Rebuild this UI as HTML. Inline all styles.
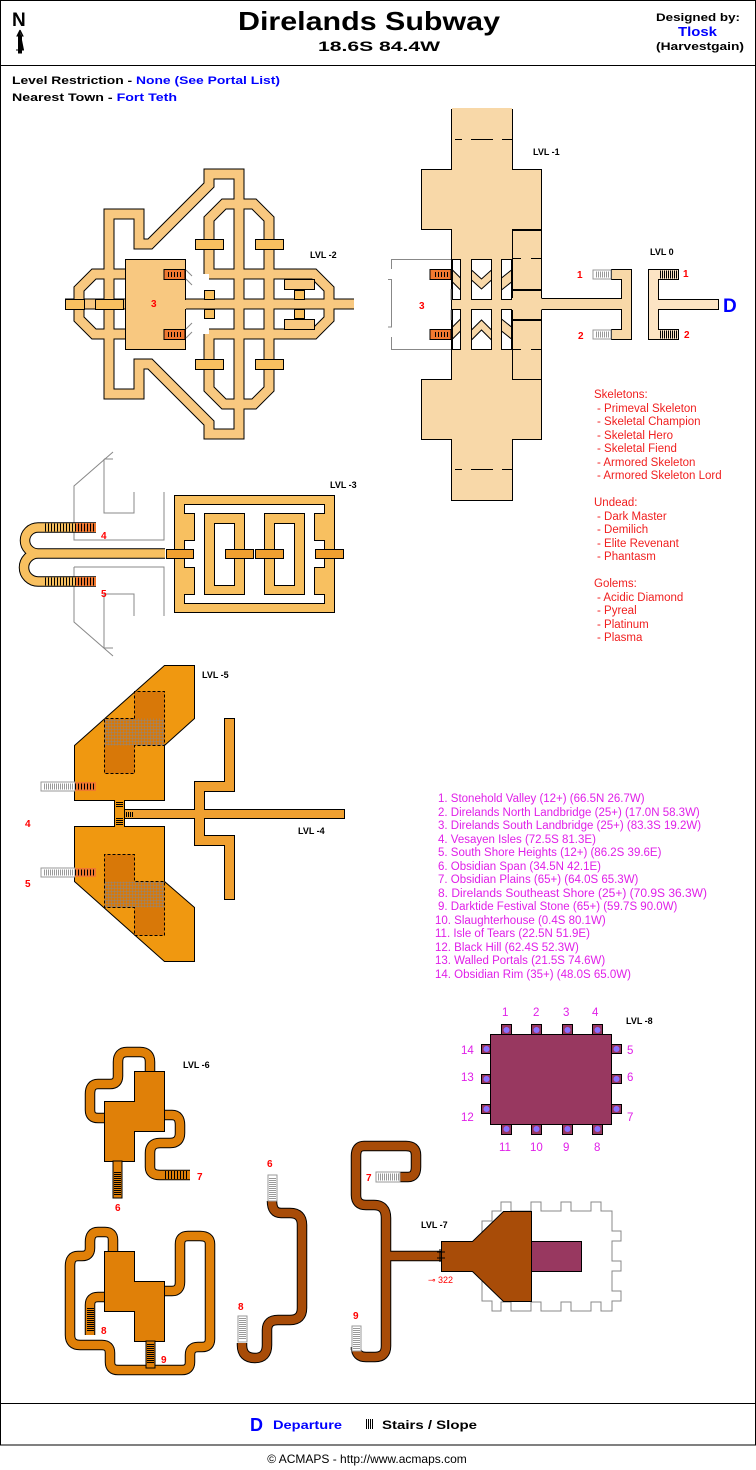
<!DOCTYPE html>
<html><head><meta charset="utf-8"><style>
html,body{margin:0;padding:0;background:#fff;}
svg{display:block;}
text{font-family:"Liberation Sans",sans-serif;}
.b{font-weight:bold;}
.lv{font-size:9px;font-weight:bold;fill:#000;}
.rn{font-size:10px;font-weight:bold;fill:#f00;}
.mon{font-size:11.5px;fill:#f02020;}
.pl{font-size:11.5px;fill:#e020e8;}
.ck{fill:none;stroke:#000;stroke-width:11;stroke-linejoin:miter;stroke-linecap:butt;}
.gr{fill:none;stroke:#888;stroke-width:1;}
</style></head><body>
<svg width="756" height="1470" viewBox="0 0 756 1470" xmlns="http://www.w3.org/2000/svg">
<defs>
<pattern id="st" width="2" height="4" patternUnits="userSpaceOnUse"><rect x="0" y="0" width="1" height="4" fill="#000"/></pattern>
<pattern id="st3" width="3" height="4" patternUnits="userSpaceOnUse"><rect x="0" y="0" width="1" height="4" fill="#000"/></pattern>
<pattern id="sg" width="2" height="4" patternUnits="userSpaceOnUse"><rect x="0" y="0" width="1" height="4" fill="#999"/></pattern>
<pattern id="sh" width="4" height="2" patternUnits="userSpaceOnUse"><rect x="0" y="0" width="4" height="1" fill="#000"/></pattern>
<pattern id="shg" width="4" height="2" patternUnits="userSpaceOnUse"><rect x="0" y="0" width="4" height="1" fill="#999"/></pattern>
<pattern id="grid" width="3" height="3" patternUnits="userSpaceOnUse"><rect width="3" height="3" fill="#d87808"/><path d="M0 0H3M0 0V3" stroke="#888" stroke-width="1"/></pattern>
</defs>
<!-- frame -->
<rect x="0.5" y="0.5" width="755" height="1444.5" fill="none" stroke="#000"/>
<line x1="0" y1="65.5" x2="756" y2="65.5" stroke="#000"/>
<line x1="0" y1="1403.5" x2="756" y2="1403.5" stroke="#000"/>
<!-- header -->
<text x="12" y="26" class="b" font-size="19">N</text>
<path d="M20 30 L23 36 H21.5 V50 H24 M16 50 H21.5 M20 30 L17 36 H18.5 V53 H21.5 V36" fill="#000" stroke="#000" stroke-width="1"/>
<text x="238" y="30" class="b" font-size="26" textLength="262" lengthAdjust="spacingAndGlyphs">Direlands Subway</text>
<text x="318" y="51" class="b" font-size="14" textLength="122" lengthAdjust="spacingAndGlyphs">18.6S 84.4W</text>
<text x="656" y="21" class="b" font-size="11" textLength="84" lengthAdjust="spacingAndGlyphs">Designed by:</text>
<text x="678" y="36" class="b" font-size="13" fill="#00f" textLength="39" lengthAdjust="spacingAndGlyphs">Tlosk</text>
<text x="656" y="50" class="b" font-size="11" textLength="88" lengthAdjust="spacingAndGlyphs">(Harvestgain)</text>
<text x="12" y="84" class="b" font-size="11" textLength="268" lengthAdjust="spacingAndGlyphs">Level Restriction - <tspan fill="#00f">None (See Portal List)</tspan></text>
<text x="12" y="101" class="b" font-size="11" textLength="165" lengthAdjust="spacingAndGlyphs">Nearest Town - <tspan fill="#00f">Fort Teth</tspan></text>

<!-- LVL -2 -->
<g>
<path class="ck" d="M109,300 V214 H139 V244 H150 L209,185 V174 H239 V434 H209 V423 L150,364 H139 V394 H109 Z"/>
<path class="ck" d="M209,274 V219 L224,204 H254 L269,219 V274 M209,334 V389 L224,404 H254 L269,389 V334 M269,274 H314 L329,289 V319 L314,334 H269 M125,274 H94 L79,289 V319 L94,334 H125 M65,304 H354 M209,274 H269 M209,334 H269 M269,274 V334"/>
<path d="M109,300 V214 H139 V244 H150 L209,185 V174 H239 V434 H209 V423 L150,364 H139 V394 H109 Z M209,274 V219 L224,204 H254 L269,219 V274 M209,334 V389 L224,404 H254 L269,389 V334 M269,274 H314 L329,289 V319 L314,334 H269 M125,274 H94 L79,289 V319 L94,334 H125 M65,304 H354 M209,274 H269 M209,334 H269 M269,274 V334" fill="none" stroke="#f8c880" stroke-width="9"/>
<rect x="125.5" y="259.5" width="60" height="90" fill="#f8c880" stroke="#000"/>
<rect x="135" y="300" width="51" height="9" fill="#f8c880"/>
<rect x="284.5" y="279.5" width="30" height="10" fill="#f8c880" stroke="#000"/>
<rect x="284.5" y="319.5" width="30" height="10" fill="#f8c880" stroke="#000"/>
<g fill="#f8c060" stroke="#000">
<rect x="65.5" y="299.5" width="19" height="10"/><rect x="95.5" y="299.5" width="28" height="10"/>
<rect x="195.5" y="239.5" width="28" height="10"/><rect x="255.5" y="239.5" width="28" height="10"/>
<rect x="195.5" y="359.5" width="28" height="10"/><rect x="255.5" y="359.5" width="28" height="10"/>
<rect x="204.5" y="290.5" width="10" height="9"/><rect x="204.5" y="309.5" width="10" height="9"/>
<rect x="294.5" y="290.5" width="10" height="9"/><rect x="294.5" y="309.5" width="10" height="9"/>
</g>
<rect x="164" y="269.5" width="21" height="10" fill="#f07830" stroke="#000"/><rect x="167" y="272" width="16" height="5" fill="url(#st3)"/>
<rect x="164" y="329.5" width="21" height="10" fill="#f07830" stroke="#000"/><rect x="167" y="332" width="16" height="5" fill="url(#st3)"/>
<path class="gr" d="M186,270 L192,276 M186,279 L192,285 M186,329 L192,323 M186,338 L192,332"/>
<text x="151" y="307" class="rn">3</text>
<text x="310" y="258" class="lv">LVL -2</text>
</g>

<!-- LVL -1 -->
<g fill="#f8d8a8" stroke="#000">
<path d="M451.5,109.5 H512.5 V169.5 H541.5 V229.5 H512.5 V379.5 H541.5 V439.5 H512.5 V500.5 H451.5 V439.5 H421.5 V379.5 H451.5 V229.5 H421.5 V169.5 H451.5 Z"/>
<rect x="451.5" y="109.5" width="30" height="30"/><rect x="482.5" y="109.5" width="30" height="30"/>
<rect x="451.5" y="469.5" width="30" height="31"/><rect x="482.5" y="469.5" width="30" height="31"/>
<rect x="512.5" y="230.5" width="29" height="59"/><rect x="512.5" y="320.5" width="29" height="59"/>
<rect x="512.5" y="290.5" width="29" height="29"/>
</g>
<g fill="#f8d8a8">
<rect x="452" y="108" width="60" height="40"/><rect x="452" y="462" width="60" height="38"/>
<rect x="508" y="298" width="120" height="12"/>
</g>
<path d="M451.5,140 V160 M512.5,140 V160 M451.5,450 V470 M512.5,450 V470 M455,139.5 H462 M471,139.5 H493 M502,139.5 H512 M455,469.5 H462 M471,469.5 H493 M502,469.5 H512 M513,258.5 H521 M531,258.5 H541 M513,349.5 H521 M531,349.5 H541" stroke="#000" fill="none"/>
<g fill="#fff" stroke="#000">
<path d="M452.5,259.5 H460.5 V299.5 H452.5 Z"/><path d="M471.5,259.5 H491.5 V299.5 H471.5 Z"/><path d="M501.5,259.5 H511.5 V299.5 H501.5 Z"/>
<path d="M452.5,309.5 H460.5 V349.5 H452.5 Z"/><path d="M471.5,309.5 H491.5 V349.5 H471.5 Z"/><path d="M501.5,309.5 H511.5 V349.5 H501.5 Z"/>
</g>
<g fill="#f8d8a8" stroke="#000">
<path d="M471.5,270 L481.5,279 L491.5,270 V280 L481.5,289 L471.5,280 Z"/>
<path d="M471.5,330 L481.5,320 L491.5,330 V340 L481.5,330 L471.5,340 Z"/>
<path d="M452.5,270 L460.5,278 V290 L452.5,282 Z"/><path d="M501.5,278 L511.5,270 V282 L501.5,290 Z"/>
<path d="M452.5,327 L460.5,319 V331 L452.5,339 Z"/><path d="M501.5,319 L511.5,327 V339 L501.5,331 Z"/>
</g>
<path d="M541.5,298.5 H621.5 V279.5 H611.5 V269.5 H631.5 V339.5 H611.5 V329.5 H621.5 V309.5 H541.5" fill="#f8d8a8" stroke="#000"/>
<rect x="593" y="270" width="18" height="9" fill="#fff" stroke="#999"/><rect x="595" y="271.5" width="15" height="6" fill="url(#sg)"/>
<rect x="593" y="330" width="18" height="9" fill="#fff" stroke="#999"/><rect x="595" y="331.5" width="15" height="6" fill="url(#sg)"/>
<path class="gr" d="M451,259.5 H391.5 V269 M388,279.5 H391.5 V327 H388 M391.5,337 V349.5 H451 M451,300 V289 M451,310 V320"/>
<rect x="430" y="269.5" width="21" height="10" fill="#f07830" stroke="#000"/><rect x="433" y="272" width="16" height="5" fill="url(#st3)"/>
<rect x="430" y="329.5" width="21" height="10" fill="#f07830" stroke="#000"/><rect x="433" y="332" width="16" height="5" fill="url(#st3)"/>
<text x="419" y="309" class="rn">3</text>
<text x="577" y="278" class="rn">1</text>
<text x="578" y="339" class="rn">2</text>
<text x="533" y="155" class="lv">LVL -1</text>
<!-- LVL 0 -->
<path d="M648.5,269.5 H678.5 V279.5 H658.5 V299.5 H718.5 V309.5 H658.5 V329.5 H678.5 V339.5 H648.5 Z" fill="#fce4c4" stroke="#000"/>
<rect x="659" y="270.5" width="19" height="8" fill="url(#st)"/>
<rect x="659" y="330.5" width="19" height="8" fill="url(#st)"/>
<text x="683" y="277" class="rn">1</text><text x="684" y="338" class="rn">2</text>
<text x="723" y="312" class="b" font-size="19" fill="#00f">D</text>
<text x="650" y="255" class="lv">LVL 0</text>

<!-- monster list -->
<text class="mon" x="594" y="398">Skeletons:</text>
<text class="mon" x="597" y="412">- Primeval Skeleton</text>
<text class="mon" x="597" y="425">- Skeletal Champion</text>
<text class="mon" x="597" y="439">- Skeletal Hero</text>
<text class="mon" x="597" y="452">- Skeletal Fiend</text>
<text class="mon" x="597" y="466">- Armored Skeleton</text>
<text class="mon" x="597" y="479">- Armored Skeleton Lord</text>
<text class="mon" x="594" y="506">Undead:</text>
<text class="mon" x="597" y="520">- Dark Master</text>
<text class="mon" x="597" y="533">- Demilich</text>
<text class="mon" x="597" y="547">- Elite Revenant</text>
<text class="mon" x="597" y="560">- Phantasm</text>
<text class="mon" x="594" y="587">Golems:</text>
<text class="mon" x="597" y="601">- Acidic Diamond</text>
<text class="mon" x="597" y="614">- Pyreal</text>
<text class="mon" x="597" y="628">- Platinum</text>
<text class="mon" x="597" y="641">- Plasma</text>

<!-- LVL -3 -->
<g class="gr">
<path d="M113,452 L74,486 V540 H164 V492 M104,459 V513 H134 V492 M104,459 H113"/>
<path d="M74,567 H164 V616 M74,567 V622 L113,656 M104,594 H134 V616 M104,594 V648 H113"/>
</g>
<path d="M96,527.5 H38 A13,13 0 0 0 38,553.5 A14,14 0 0 0 38,581.5 H96 M38,553.5 H165" fill="none" stroke="#000" stroke-width="10.5"/>
<path d="M96,527.5 H38 A13,13 0 0 0 38,553.5 A14,14 0 0 0 38,581.5 H96 M38,553.5 H165" fill="none" stroke="#f8c060" stroke-width="8.5"/>
<rect x="45" y="523.5" width="30" height="8" fill="url(#st3)"/><rect x="75" y="523" width="21" height="9" fill="#f07830"/><rect x="75" y="523.5" width="21" height="8" fill="url(#st3)"/>
<rect x="45" y="577.5" width="30" height="8" fill="url(#st3)"/><rect x="75" y="577" width="21" height="9" fill="#f07830"/><rect x="75" y="577.5" width="21" height="8" fill="url(#st3)"/>
<text x="101" y="539" class="rn">4</text><text x="101" y="597" class="rn">5</text>
<rect x="174.5" y="495.5" width="160" height="117" fill="#f8c060" stroke="#000"/>
<rect x="184.5" y="504.5" width="140" height="99" fill="#fff" stroke="#000"/>
<g fill="#f8c060" stroke="#000">
<path d="M184.5,513.5 H194.5 V540.5 H184.5"/><path d="M184.5,567.5 H194.5 V594.5 H184.5"/>
<path d="M324.5,513.5 H314.5 V540.5 H324.5"/><path d="M324.5,567.5 H314.5 V594.5 H324.5"/>
<rect x="204.5" y="513.5" width="40" height="81"/><rect x="264.5" y="513.5" width="40" height="81"/>
</g>
<rect x="175" y="514" width="10" height="26" fill="#f8c060"/><rect x="175" y="568" width="10" height="26" fill="#f8c060"/>
<rect x="324" y="514" width="10" height="26" fill="#f8c060"/><rect x="324" y="568" width="10" height="26" fill="#f8c060"/>
<rect x="214.5" y="523.5" width="20" height="62" fill="#fff" stroke="#000"/><rect x="274.5" y="523.5" width="20" height="62" fill="#fff" stroke="#000"/>
<g fill="#f0a030" stroke="#000">
<rect x="166.5" y="549.5" width="27" height="9"/><rect x="225.5" y="549.5" width="28" height="9"/>
<rect x="255.5" y="549.5" width="28" height="9"/><rect x="315.5" y="549.5" width="28" height="9"/>
</g>
<text x="330" y="488" class="lv">LVL -3</text>

<!-- LVL -5 -->
<path d="M74.5,745.5 L164.5,665.5 H194.5 V718.5 L164.5,745.5 V800.5 H124.5 V826.5 H164.5 V881.5 L194.5,907.5 V961.5 H164.5 L74.5,881.5 V826.5 H114.5 V800.5 H74.5 Z" fill="#f09810" stroke="#000"/>
<rect x="134.5" y="691.5" width="30" height="27" fill="#d87808"/><rect x="104.5" y="745.5" width="30" height="28" fill="#d87808"/>
<rect x="104.5" y="718.5" width="60" height="27" fill="url(#grid)"/>
<path d="M134.5,718.5 V691.5 H164.5 V745.5 H134.5 V773.5 H104.5 V718.5 Z" fill="none" stroke="#000" stroke-dasharray="3,2"/>
<rect x="104.5" y="854.5" width="30" height="27" fill="#d87808"/><rect x="134.5" y="907.5" width="30" height="28" fill="#d87808"/>
<rect x="104.5" y="881.5" width="60" height="26" fill="url(#grid)"/>
<path d="M104.5,881.5 V854.5 H134.5 V881.5 H164.5 V935.5 H134.5 V907.5 H104.5 Z" fill="none" stroke="#000" stroke-dasharray="3,2"/>
<rect x="41" y="782" width="34" height="9" fill="#fff" stroke="#999"/><rect x="44" y="783.5" width="30" height="6" fill="url(#sg)"/>
<rect x="75" y="782" width="21" height="9" fill="#f07830"/><rect x="75" y="783.5" width="21" height="6" fill="url(#st3)"/>
<rect x="41" y="868" width="34" height="9" fill="#fff" stroke="#999"/><rect x="44" y="869.5" width="30" height="6" fill="url(#sg)"/>
<rect x="75" y="868" width="21" height="9" fill="#f07830"/><rect x="75" y="869.5" width="21" height="6" fill="url(#st3)"/>
<rect x="116" y="801" width="7" height="7" fill="url(#sh)"/><rect x="116" y="818" width="7" height="7" fill="url(#sh)"/>
<text x="25" y="827" class="rn">4</text><text x="25" y="887" class="rn">5</text>
<text x="202" y="678" class="lv">LVL -5</text>
<!-- LVL -4 -->
<path d="M224.5,718.5 H234.5 V791.5 H204.5 V809.5 H344.5 V818.5 H204.5 V835.5 H234.5 V899.5 H224.5 V845.5 H194.5 V818.5 H124.5 V809.5 H194.5 V781.5 H224.5 Z" fill="#f0a030" stroke="#000"/>
<rect x="125" y="812" width="8" height="5" fill="url(#st)"/>
<text x="298" y="834" class="lv">LVL -4</text>

<!-- portal list -->
<g class="pl">
<text x="438" y="802">1. Stonehold Valley (12+) (66.5N 26.7W)</text>
<text x="438" y="816">2. Direlands North Landbridge (25+) (17.0N 58.3W)</text>
<text x="438" y="829">3. Direlands South Landbridge (25+) (83.3S 19.2W)</text>
<text x="438" y="843">4. Vesayen Isles (72.5S 81.3E)</text>
<text x="438" y="856">5. South Shore Heights (12+) (86.2S 39.6E)</text>
<text x="438" y="870">6. Obsidian Span (34.5N 42.1E)</text>
<text x="438" y="883">7. Obsidian Plains (65+) (64.0S 65.3W)</text>
<text x="438" y="897" textLength="269" lengthAdjust="spacingAndGlyphs">8. Direlands Southeast Shore (25+) (70.9S 36.3W)</text>
<text x="438" y="910">9. Darktide Festival Stone (65+) (59.7S 90.0W)</text>
<text x="435" y="924">10. Slaughterhouse (0.4S 80.1W)</text>
<text x="435" y="937">11. Isle of Tears (22.5N 51.9E)</text>
<text x="435" y="951">12. Black Hill (62.4S 52.3W)</text>
<text x="435" y="964">13. Walled Portals (21.5S 74.6W)</text>
<text x="435" y="978">14. Obsidian Rim (35+) (48.0S 65.0W)</text>
</g>

<!-- LVL -8 -->
<g fill="#983860" stroke="#000">
<rect x="501.5" y="1024.5" width="10" height="10"/><rect x="531.5" y="1024.5" width="10" height="10"/><rect x="562.5" y="1024.5" width="10" height="10"/><rect x="592.5" y="1024.5" width="10" height="10"/>
<rect x="501.5" y="1124.5" width="10" height="10"/><rect x="531.5" y="1124.5" width="10" height="10"/><rect x="562.5" y="1124.5" width="10" height="10"/><rect x="592.5" y="1124.5" width="10" height="10"/>
<rect x="481.5" y="1044.5" width="10" height="9"/><rect x="481.5" y="1074.5" width="10" height="9"/><rect x="481.5" y="1104.5" width="10" height="9"/>
<rect x="611.5" y="1044.5" width="10" height="9"/><rect x="611.5" y="1074.5" width="10" height="9"/><rect x="611.5" y="1104.5" width="10" height="9"/>
<rect x="490.5" y="1034.5" width="121" height="90"/>
</g>
<g fill="#8870ff">
<circle cx="506.5" cy="1030" r="3"/><circle cx="536.5" cy="1030" r="3"/><circle cx="567.5" cy="1030" r="3"/><circle cx="597.5" cy="1030" r="3"/>
<circle cx="506.5" cy="1129" r="3"/><circle cx="536.5" cy="1129" r="3"/><circle cx="567.5" cy="1129" r="3"/><circle cx="597.5" cy="1129" r="3"/>
<circle cx="486.5" cy="1049" r="3"/><circle cx="486.5" cy="1079" r="3"/><circle cx="486.5" cy="1109" r="3"/>
<circle cx="616.5" cy="1049" r="3"/><circle cx="616.5" cy="1079" r="3"/><circle cx="616.5" cy="1109" r="3"/>
</g>
<g class="pl" font-size="11">
<text x="502" y="1016">1</text><text x="533" y="1016">2</text><text x="563" y="1016">3</text><text x="592" y="1016">4</text>
<text x="461" y="1054">14</text><text x="461" y="1081">13</text><text x="461" y="1121">12</text>
<text x="627" y="1054">5</text><text x="627" y="1081">6</text><text x="627" y="1121">7</text>
<text x="499" y="1151">11</text><text x="530" y="1151">10</text><text x="563" y="1151">9</text><text x="594" y="1151">8</text>
</g>
<text x="626" y="1024" class="lv">LVL -8</text>

<!-- LVL -6 upper -->
<path d="M150,1072 V1062 Q150,1052 140,1052 H127 Q118,1052 118,1062 V1076 Q118,1084 110,1084 H98 Q90,1084 90,1094 V1110 Q90,1118 98,1118 H106 M163,1115 H172 Q180,1115 180,1125 V1133 Q180,1143 170,1143 H160 Q150,1143 150,1153 V1167 Q150,1175 160,1175 H190" fill="none" stroke="#000" stroke-width="10.5"/>
<path d="M150,1072 V1062 Q150,1052 140,1052 H127 Q118,1052 118,1062 V1076 Q118,1084 110,1084 H98 Q90,1084 90,1094 V1110 Q90,1118 98,1118 H106 M163,1115 H172 Q180,1115 180,1125 V1133 Q180,1143 170,1143 H160 Q150,1143 150,1153 V1167 Q150,1175 160,1175 H190" fill="none" stroke="#e08008" stroke-width="8.5"/>
<path d="M134.5,1071.5 H164.5 V1131.5 H134.5 V1161.5 H104.5 V1101.5 H134.5 Z" fill="#e08008" stroke="#000"/>
<rect x="113" y="1161" width="9" height="37" fill="#e08008" stroke="#000"/><rect x="114" y="1171" width="7" height="24" fill="url(#sh)"/>
<rect x="165" y="1171" width="24" height="8" fill="url(#st3)"/>
<text x="197" y="1180" class="rn">7</text><text x="115" y="1211" class="rn">6</text>
<text x="183" y="1068" class="lv">LVL -6</text>
<!-- LVL -6 lower -->
<path d="M113,1252 V1240 Q113,1232 105,1232 H98 Q90,1232 90,1242 V1248 Q90,1256 82,1256 H78 Q70,1256 70,1266 V1335 Q70,1345 80,1345 H102 Q110,1345 110,1353 V1362 Q110,1370 118,1370 H182 Q190,1370 190,1362 V1355 Q190,1347 198,1347 H202 Q210,1347 210,1339 V1244 Q210,1236 200,1236 H188 Q180,1236 180,1244 V1282 Q180,1291 172,1291 H164 M104,1297 H98 Q90,1297 90,1305 V1335" fill="none" stroke="#000" stroke-width="10.5"/>
<path d="M113,1252 V1240 Q113,1232 105,1232 H98 Q90,1232 90,1242 V1248 Q90,1256 82,1256 H78 Q70,1256 70,1266 V1335 Q70,1345 80,1345 H102 Q110,1345 110,1353 V1362 Q110,1370 118,1370 H182 Q190,1370 190,1362 V1355 Q190,1347 198,1347 H202 Q210,1347 210,1339 V1244 Q210,1236 200,1236 H188 Q180,1236 180,1244 V1282 Q180,1291 172,1291 H164 M104,1297 H98 Q90,1297 90,1305 V1335" fill="none" stroke="#e08008" stroke-width="8.5"/>
<path d="M104.5,1251.5 H134.5 V1281.5 H164.5 V1341.5 H134.5 V1311.5 H104.5 Z" fill="#e08008" stroke="#000"/>
<rect x="87" y="1308" width="7" height="24" fill="url(#sh)"/>
<rect x="146" y="1341" width="9" height="27" fill="#e08008" stroke="#000"/><rect x="147" y="1344" width="7" height="20" fill="url(#sh)"/>
<text x="101" y="1334" class="rn">8</text><text x="161" y="1363" class="rn">9</text>

<!-- LVL -7 -->
<path d="M242,1343 V1345 Q242,1358 255,1358 Q267,1358 267,1345 V1330 Q267,1320 278,1320 H290 Q302,1320 302,1308 V1225 Q302,1213 290,1213 H281 Q272,1213 272,1201" fill="none" stroke="#000" stroke-width="10.5"/>
<path d="M242,1343 V1345 Q242,1358 255,1358 Q267,1358 267,1345 V1330 Q267,1320 278,1320 H290 Q302,1320 302,1308 V1225 Q302,1213 290,1213 H281 Q272,1213 272,1201" fill="none" stroke="#a84c08" stroke-width="8.5"/>
<rect x="268" y="1175" width="9" height="26" fill="#fff" stroke="#999"/><rect x="269" y="1178" width="7" height="22" fill="url(#shg)"/>
<rect x="238" y="1316" width="9" height="26" fill="#fff" stroke="#999"/><rect x="239" y="1318" width="7" height="22" fill="url(#shg)"/>
<text x="267" y="1167" class="rn">6</text><text x="238" y="1310" class="rn">8</text>
<path d="M400,1177 H408 Q416,1177 416,1167 V1155 Q416,1146 406,1146 H364 Q356,1146 356,1156 V1195 Q356,1205 366,1205 H374 Q386,1205 386,1218 V1346 Q386,1357 375,1357 H366 Q356,1357 356,1347 V1350 M386,1256 H441" fill="none" stroke="#000" stroke-width="10.5"/>
<path d="M400,1177 H408 Q416,1177 416,1167 V1155 Q416,1146 406,1146 H364 Q356,1146 356,1156 V1195 Q356,1205 366,1205 H374 Q386,1205 386,1218 V1346 Q386,1357 375,1357 H366 Q356,1357 356,1347 V1350 M386,1256 H441" fill="none" stroke="#a84c08" stroke-width="8.5"/>
<rect x="376" y="1172" width="24" height="10" fill="#fff" stroke="#999"/><rect x="378" y="1173.5" width="21" height="7" fill="url(#sg)"/>
<rect x="352" y="1326" width="9" height="25" fill="#fff" stroke="#999"/><rect x="353" y="1328" width="7" height="22" fill="url(#shg)"/>
<text x="366" y="1181" class="rn">7</text><text x="353" y="1319" class="rn">9</text>
<path class="gr" d="M492,1211 H501 V1202 H511 V1211 H531 V1202 H541 V1211 H561 V1202 H571 V1211 H591 V1202 H601 V1211 H612 V1231 H621 V1241 H612 V1261 H621 V1271 H612 V1291 H621 V1301 H612 V1311 H601 V1302 H591 V1311 H571 V1302 H561 V1311 H541 V1302 H531 V1311 H511 V1302 H501 V1311 H492 V1301 H482 V1221 H492 Z"/>
<path d="M441.5,1241.5 H472.5 L503.5,1211.5 H531.5 V1301.5 H503.5 L472.5,1271.5 H441.5 Z" fill="#a84c08" stroke="#000"/>
<rect x="531.5" y="1241.5" width="50" height="30" fill="#983860" stroke="#000"/>
<path d="M437,1252 H445 M437,1258 H445 M440,1249 V1262" stroke="#000"/>
<text x="428" y="1283" font-size="9" fill="#f00">⊸ 322</text>
<text x="421" y="1228" class="lv">LVL -7</text>

<!-- footer -->
<text x="250" y="1431" class="b" font-size="18" fill="#00f">D</text>
<text x="273" y="1429" class="b" font-size="12" fill="#00f" textLength="69" lengthAdjust="spacingAndGlyphs">Departure</text>
<rect x="365" y="1419" width="8" height="10" fill="url(#st)"/>
<text x="382" y="1429" class="b" font-size="12" textLength="95" lengthAdjust="spacingAndGlyphs">Stairs / Slope</text>
<text x="367" y="1463" font-size="12" text-anchor="middle">© ACMAPS - http://www.acmaps.com</text>
</svg>
</body></html>
